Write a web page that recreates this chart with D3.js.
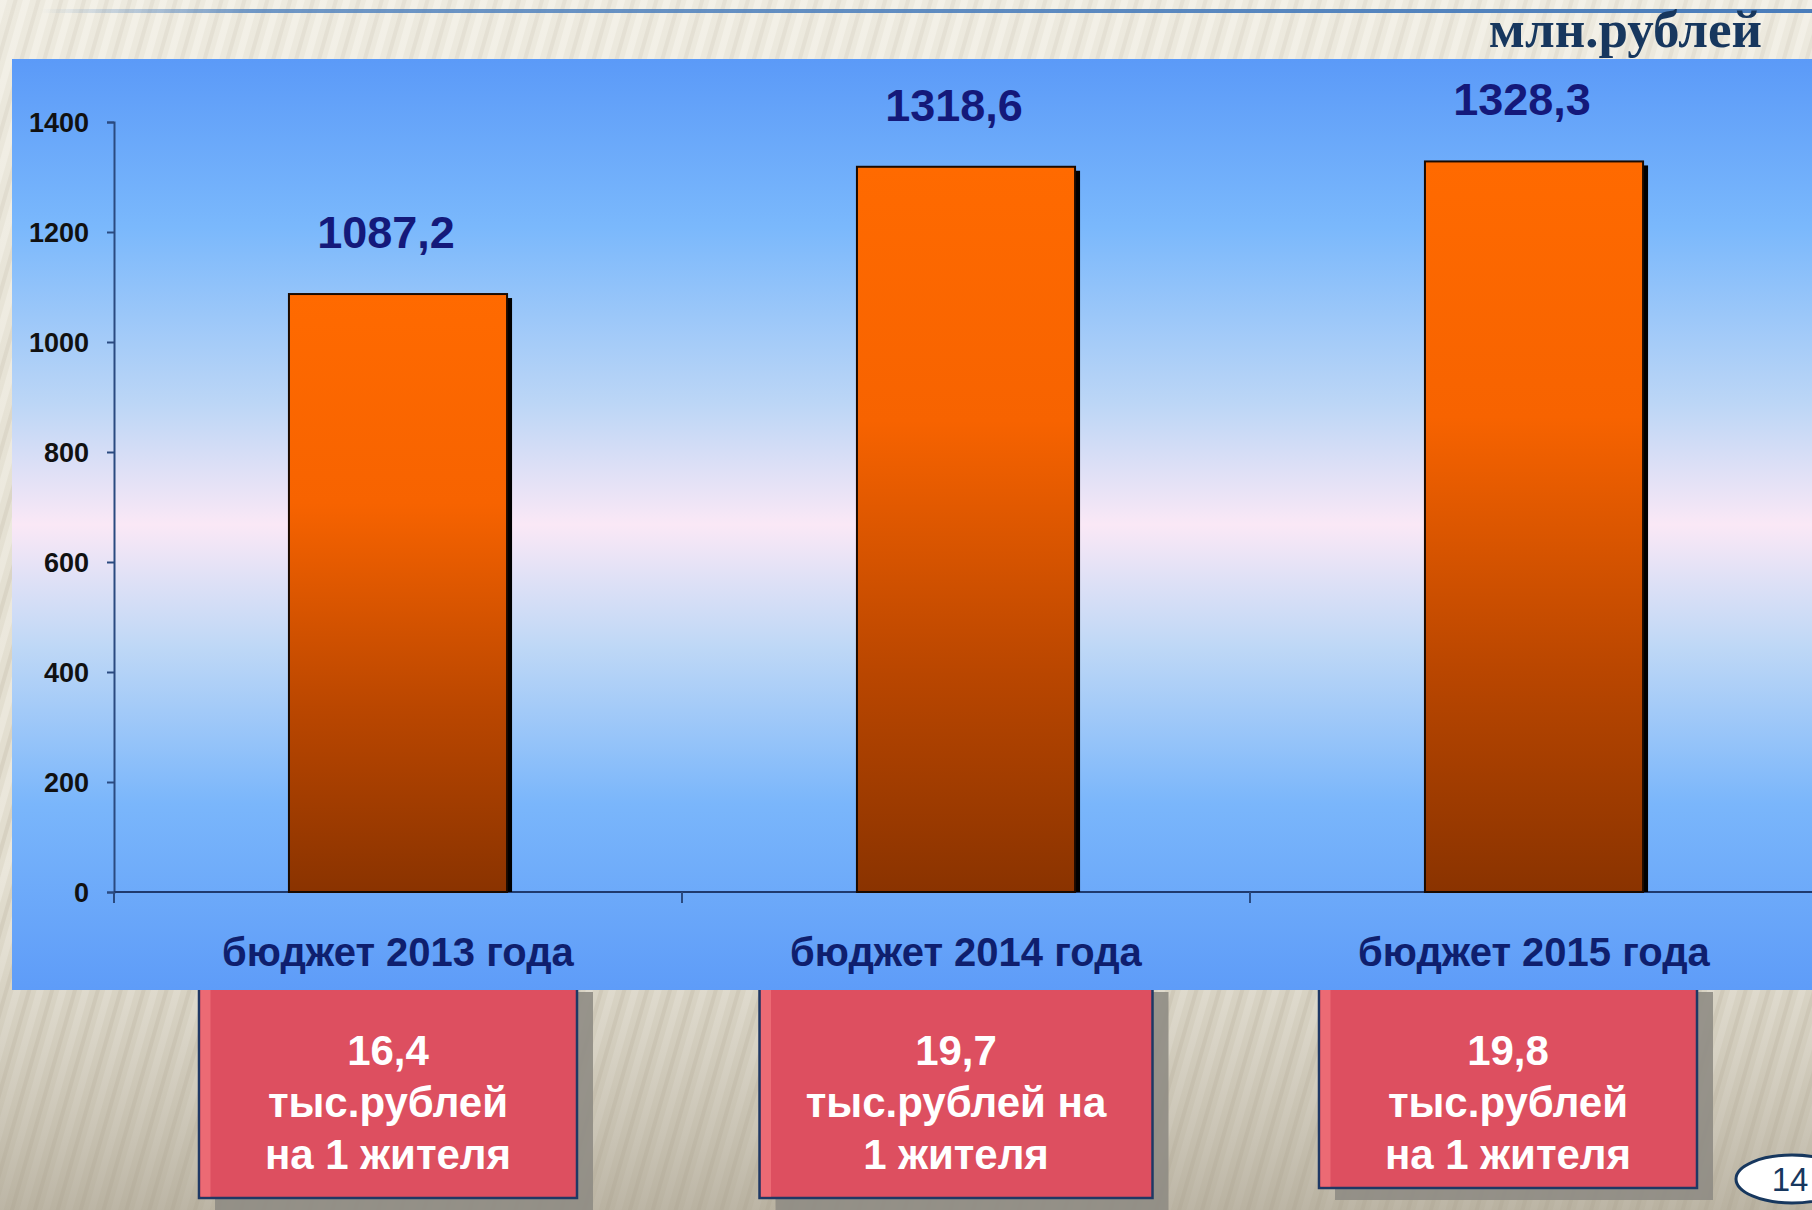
<!DOCTYPE html>
<html>
<head>
<meta charset="utf-8">
<script src="https://cdn.jsdelivr.net/npm/d3@7"></script>
<style>
  html, body { margin: 0; padding: 0; background: #ece8dc; overflow: hidden; }
  svg { display: block; }
</style>
</head>
<body>
<svg id="chart" width="1812" height="1210"></svg>
<script>
// Daten
const kategorien = ["бюджет 2013 года", "бюджет 2014 года", "бюджет 2015 года"];
const werte = [1087.2, 1318.6, 1328.3];
const werteText = ["1087,2", "1318,6", "1328,3"];
const yTicks = [0, 200, 400, 600, 800, 1000, 1200, 1400];
const proKopf = [
  ["16,4", "тыс.рублей", "на 1 жителя"],
  ["19,7", "тыс.рублей на", "1 жителя"],
  ["19,8", "тыс.рублей", "на 1 жителя"]
];
const einheit = "млн.рублей";
const seite = "14";

// Layout
const breite = 1812, hoehe = 1210;
const boxVersatz = [-10, -10, -26];
const boxBreiten = [378, 393, 378];
const boxHoehen = [218, 218, 208];

const svg = d3.select("#chart");
const defs = svg.append("defs");

// Hintergrund mit Streifen
const pat = defs.append("pattern")
  .attr("id", "streifen").attr("patternUnits", "userSpaceOnUse")
  .attr("width", 22).attr("height", 22)
  .attr("patternTransform", "rotate(16)");
pat.append("rect").attr("width", 22).attr("height", 22).attr("fill", "#e6e2d4");
pat.append("rect").attr("width", 7).attr("height", 22).attr("fill", "#f2efe5");
pat.append("rect").attr("x", 13).attr("width", 4).attr("height", 22).attr("fill", "#d6d0c0");

const bgGrad = defs.append("linearGradient").attr("id", "bgShade")
  .attr("x1", 0).attr("y1", 0).attr("x2", 0).attr("y2", 1);
bgGrad.append("stop").attr("offset", "0").attr("stop-color", "#f4f2ea").attr("stop-opacity", 0.5);
bgGrad.append("stop").attr("offset", "0.72").attr("stop-color", "#d8d2c2").attr("stop-opacity", 0.3);
bgGrad.append("stop").attr("offset", "1").attr("stop-color", "#aaa290").attr("stop-opacity", 0.75);

svg.append("rect").attr("width", breite).attr("height", hoehe).attr("fill", "url(#streifen)");
svg.append("rect").attr("width", breite).attr("height", hoehe).attr("fill", "url(#bgShade)");

// Linie oben
const lineGrad = defs.append("linearGradient").attr("id", "lineGrad");
lineGrad.append("stop").attr("offset", "0").attr("stop-color", "#4f81bd").attr("stop-opacity", 0);
lineGrad.append("stop").attr("offset", "0.12").attr("stop-color", "#4f81bd").attr("stop-opacity", 0.8);
lineGrad.append("stop").attr("offset", "1").attr("stop-color", "#4a7dbb").attr("stop-opacity", 1);
svg.append("rect").attr("x", 40).attr("y", 9).attr("width", breite - 40).attr("height", 4)
  .attr("fill", "url(#lineGrad)");

// Skalen
const x = d3.scaleBand().domain(kategorien).range([114, 1818])
  .paddingInner(0.616).paddingOuter(0.308);
const y = d3.scaleLinear().domain([0, 1400]).range([892, 122]);
const bandStep = x.step();

// Kästen pro Einwohner (unter dem Panel)
const boxes = svg.append("g");
proKopf.forEach((zeilen, i) => {
  const bw = boxBreiten[i], bh = boxHoehen[i];
  const cx = x(kategorien[i]) + x.bandwidth() / 2 + boxVersatz[i];
  const bx = cx - bw / 2, by = 980;
  const g = boxes.append("g");
  g.append("rect").attr("x", bx + 16).attr("y", by + 12).attr("width", bw).attr("height", bh)
    .attr("fill", "#8f8c84").attr("opacity", 0.9);
  g.append("rect").attr("x", bx).attr("y", by).attr("width", bw).attr("height", bh)
    .attr("fill", "#dd4f60").attr("stroke", "#1f3864").attr("stroke-width", 2.5);
  g.append("rect").attr("x", bx + 1.5).attr("y", by).attr("width", 10).attr("height", bh - 1.5)
    .attr("fill", "#ec6a74");
  zeilen.forEach((z, j) => {
    g.append("text").attr("x", cx).attr("y", 1065 + j * 52)
      .attr("text-anchor", "middle")
      .attr("font-family", "Liberation Sans, Arial, sans-serif")
      .attr("font-weight", "bold").attr("font-size", 42).attr("fill", "#fff")
      .text(z);
  });
});

// Panel
const panel = { x: 12, y: 59, w: breite - 12, h: 931 };
const panelGrad = defs.append("linearGradient").attr("id", "panelGrad")
  .attr("x1", 0).attr("y1", 0).attr("x2", 0).attr("y2", 1);
[["0", "#5b9af8"], ["0.18", "#7ab8fc"], ["0.37", "#bcd6f6"], ["0.5", "#fae8f6"],
 ["0.63", "#bfd8f6"], ["0.8", "#7ab6fb"], ["1", "#5e9cf8"]]
  .forEach(([o, c]) => panelGrad.append("stop").attr("offset", o).attr("stop-color", c));
svg.append("rect").attr("x", panel.x).attr("y", panel.y).attr("width", panel.w).attr("height", panel.h)
  .attr("fill", "url(#panelGrad)");

// Achsen
const yAxis = d3.axisLeft(y).tickValues(yTicks).tickSize(7).tickPadding(18).tickFormat(d3.format("d"));
const yAxisG = svg.append("g").attr("transform", "translate(114,0)").call(yAxis);
yAxisG.select(".domain").attr("stroke", "#2a4a80").attr("stroke-width", 2);
yAxisG.selectAll("line").attr("stroke", "#2a4a80").attr("stroke-width", 2);
yAxisG.selectAll("text")
  .attr("font-family", "Liberation Sans, Arial, sans-serif")
  .attr("font-weight", "bold").attr("font-size", 27).attr("fill", "#111")
  .attr("dy", "0.36em");

svg.append("line").attr("x1", 114).attr("x2", breite).attr("y1", y(0)).attr("y2", y(0))
  .attr("stroke", "#1f3a6e").attr("stroke-width", 2);
svg.selectAll(".catTick").data(d3.range(kategorien.length)).enter().append("line")
  .attr("x1", i => 114 + i * bandStep).attr("x2", i => 114 + i * bandStep)
  .attr("y1", y(0)).attr("y2", y(0) + 11)
  .attr("stroke", "#2a4a80").attr("stroke-width", 2);

// Balken
const barGrad = defs.append("linearGradient").attr("id", "barGrad")
  .attr("x1", 0).attr("y1", 0).attr("x2", 0).attr("y2", 1);
[["0", "#ff6a00"], ["0.35", "#f76300"], ["0.7", "#b94600"], ["1", "#8a3300"]]
  .forEach(([o, c]) => barGrad.append("stop").attr("offset", o).attr("stop-color", c));

const balken = svg.append("g");
balken.selectAll(".schatten").data(werte).enter().append("rect")
  .attr("x", (d, i) => x(kategorien[i]) + 5)
  .attr("y", d => y(d) + 4)
  .attr("width", x.bandwidth())
  .attr("height", d => y(0) - y(d) - 4)
  .attr("fill", "#000");
balken.selectAll(".bar").data(werte).enter().append("rect")
  .attr("x", (d, i) => x(kategorien[i]))
  .attr("y", d => y(d))
  .attr("width", x.bandwidth())
  .attr("height", d => y(0) - y(d))
  .attr("fill", "url(#barGrad)")
  .attr("stroke", "#1a0a00").attr("stroke-width", 2);

// Werte
svg.selectAll(".wert").data(werte).enter().append("text")
  .attr("x", (d, i) => x(kategorien[i]) + x.bandwidth() / 2 - 12)
  .attr("y", d => y(d) - 46)
  .attr("text-anchor", "middle")
  .attr("font-family", "Liberation Sans, Arial, sans-serif")
  .attr("font-weight", "bold").attr("font-size", 45).attr("fill", "#14197a")
  .text((d, i) => werteText[i]);

// Kategorien
svg.selectAll(".kat").data(kategorien).enter().append("text")
  .attr("x", d => x(d) + x.bandwidth() / 2)
  .attr("y", 966)
  .attr("text-anchor", "middle")
  .attr("font-family", "Liberation Sans, Arial, sans-serif")
  .attr("font-weight", "bold").attr("font-size", 40).attr("fill", "#0f1f6e")
  .text(d => d);

// Einheit
svg.append("text").attr("x", 1762).attr("y", 47).attr("text-anchor", "end")
  .attr("font-family", "Liberation Serif, Times New Roman, serif")
  .attr("font-weight", "bold").attr("font-size", 53).attr("fill", "#17375e")
  .text(einheit);

// Seitennummer
svg.append("ellipse").attr("cx", 1792).attr("cy", 1179).attr("rx", 56).attr("ry", 24)
  .attr("fill", "#fff").attr("stroke", "#17375e").attr("stroke-width", 3);
svg.append("text").attr("x", 1790).attr("y", 1191).attr("text-anchor", "middle")
  .attr("font-family", "Liberation Sans, Arial, sans-serif")
  .attr("font-size", 33).attr("fill", "#17375e").text(seite);
</script>
</body>
</html>
